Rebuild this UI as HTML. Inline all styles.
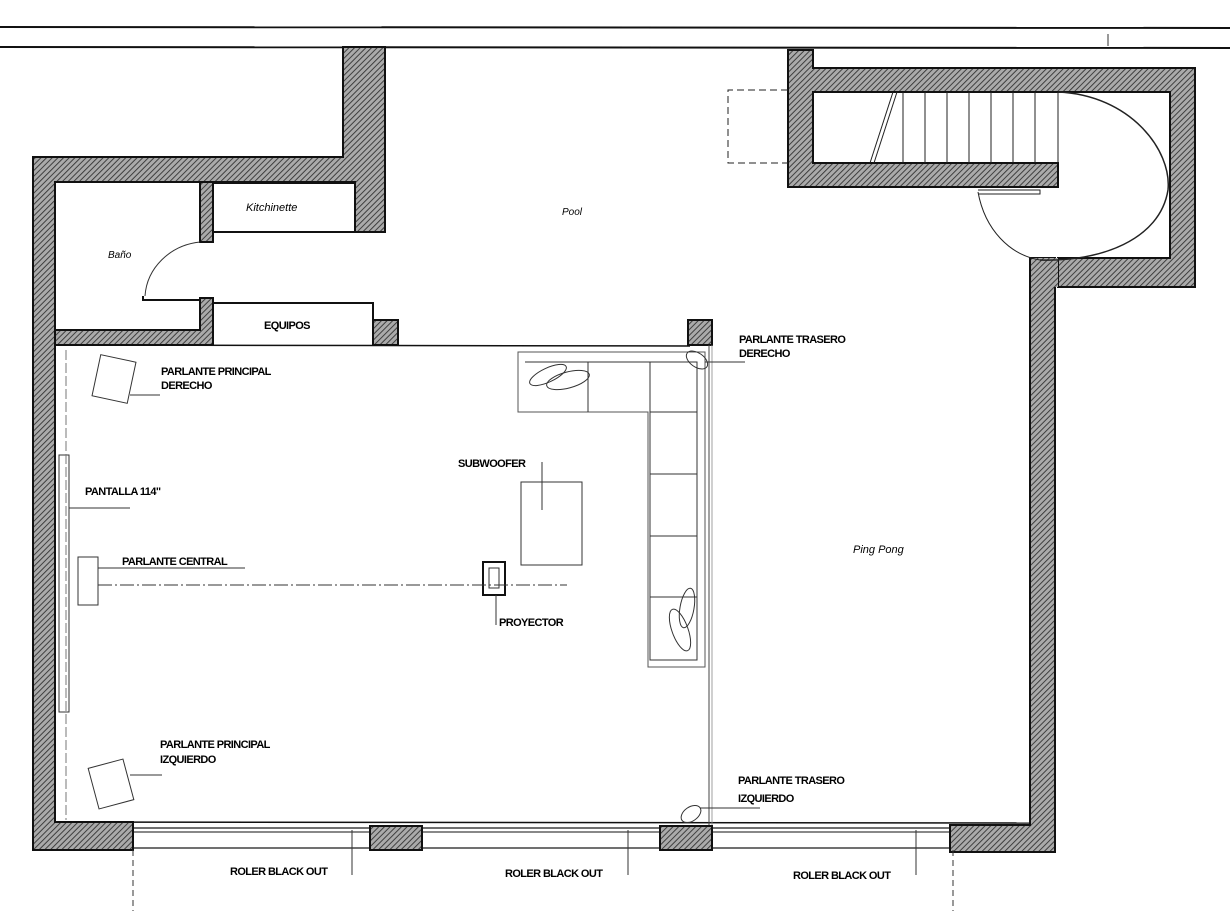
<!DOCTYPE html>
<html><head><meta charset="utf-8"><style>
html,body{margin:0;padding:0;background:#fff;}
svg{display:block;}
text{font-family:"Liberation Sans",sans-serif;font-size:11px;font-weight:bold;fill:#000;letter-spacing:-0.6px;}
.it{font-style:italic;font-weight:normal;letter-spacing:0;}
</style></head><body>
<svg width="1230" height="911" viewBox="0 0 1230 911" xmlns="http://www.w3.org/2000/svg">
<defs>
<pattern id="h" width="4" height="4" patternUnits="userSpaceOnUse" patternTransform="rotate(45)">
<rect width="4" height="4" fill="#aaa"/><line x1="0" y1="0" x2="0" y2="4" stroke="#333" stroke-width="1.8"/>
</pattern>
</defs>
<rect width="1230" height="911" fill="#fff"/>
<line x1="0" y1="27" x2="1230" y2="28" stroke="#111" stroke-width="2"/>
<line x1="0" y1="47" x2="1230" y2="48" stroke="#111" stroke-width="2"/>
<line x1="1108" y1="34" x2="1108" y2="46" stroke="#333" stroke-width="1"/>

<g fill="url(#h)" stroke="#111" stroke-width="2">
<path d="M343,47 H385 V232 H355 V182 H55 V822 H133 V850 H33 V157 H343 Z"/>
<rect x="200" y="182" width="13" height="60"/>
<path d="M55,330 H200 V298 H213 V345 H55 Z"/>
<rect x="373" y="320" width="25" height="25"/>
<rect x="688" y="320" width="24" height="25"/>
<rect x="370" y="826" width="52" height="24"/>
<rect x="660" y="826" width="52" height="24"/>
<path d="M1030,258 H1055 V852 H950 V825 H1030 Z"/>
<path d="M788,50 H813 V68 H1195 V287 H1058 V258 H1170 V92 H813 V163 H1058 V187 H788 Z"/>
</g>
<rect x="1033" y="258" width="25" height="29" fill="url(#h)"/>
<g fill="none" stroke="#111" stroke-width="2">
<path d="M213,183 H355 V232 H213"/>
<path d="M213,303 H373 V345"/>
<line x1="55" y1="345" x2="690" y2="346" stroke-width="1.5"/>
<rect x="133" y="828" width="237" height="20" stroke-width="1.2"/>
<rect x="422" y="828" width="238" height="20" stroke-width="1.2"/>
<rect x="712" y="828" width="238" height="20" stroke-width="1.2"/>
<line x1="133" y1="832" x2="370" y2="832" stroke-width="1"/>
<line x1="422" y1="832" x2="660" y2="832" stroke-width="1"/>
<line x1="712" y1="832" x2="950" y2="832" stroke-width="1"/>
<line x1="55" y1="822" x2="1030" y2="823" stroke-width="1.5"/>
</g>
<path d="M145,296 A62,58 0 0 1 200,242" fill="none" stroke="#333" stroke-width="1"/>
<path d="M143,296 V300 H200" fill="none" stroke="#111" stroke-width="2"/>
<line x1="709" y1="345" x2="709" y2="825" stroke="#444" stroke-width="1"/>
<line x1="712" y1="345" x2="712" y2="825" stroke="#888" stroke-width="0.8"/>
<g stroke="#222" stroke-width="1" fill="none">
<line x1="903" y1="92" x2="903" y2="163"/><line x1="925" y1="92" x2="925" y2="163"/>
<line x1="947" y1="92" x2="947" y2="163"/><line x1="969" y1="92" x2="969" y2="163"/>
<line x1="991" y1="92" x2="991" y2="163"/><line x1="1013" y1="92" x2="1013" y2="163"/>
<line x1="1035" y1="92" x2="1035" y2="163"/><line x1="1058" y1="92" x2="1058" y2="163"/>
<line x1="893" y1="92" x2="870" y2="163"/><line x1="897" y1="92" x2="874" y2="163"/>
<path d="M788,90 H728 V163 H788" stroke-dasharray="7,4"/>
<path d="M1058,92 C1130,95 1172,150 1168,190 C1160,240 1100,262 1040,260" stroke-width="1.5"/>
<path d="M978,192 C985,230 1010,255 1040,260"/>
<path d="M978,190 H1040 V194 H978"/>
</g>
<g fill="none" stroke="#333" stroke-width="1">
<path d="M518,352 H705 V667 H648 V412 H518 Z" stroke="#555"/>
<path d="M525,362 H697 V660 H650 V412"/>
<line x1="588" y1="362" x2="588" y2="412"/><line x1="650" y1="362" x2="650" y2="412"/>
<line x1="650" y1="412" x2="697" y2="412"/><line x1="650" y1="474" x2="697" y2="474"/>
<line x1="650" y1="536" x2="697" y2="536"/><line x1="650" y1="597" x2="697" y2="597"/>
<ellipse cx="548" cy="375" rx="20" ry="7" transform="rotate(-25 548 375)"/>
<ellipse cx="568" cy="380" rx="22" ry="8" transform="rotate(-15 568 380)"/>
<ellipse cx="687" cy="608" rx="7" ry="20" transform="rotate(10 687 608)"/>
<ellipse cx="680" cy="630" rx="8" ry="22" transform="rotate(-20 680 630)"/>
<rect x="521" y="482" width="61" height="83"/>
<line x1="542" y1="462" x2="542" y2="510"/>
<rect x="483" y="562" width="22" height="33" stroke-width="2" stroke="#111"/>
<rect x="489" y="568" width="10" height="20"/>
<line x1="496" y1="595" x2="496" y2="625"/>
<line x1="98" y1="585" x2="567" y2="585" stroke-dasharray="14,3,2,3"/>
<rect x="59" y="455" width="10" height="257"/>
<line x1="66" y1="350" x2="66" y2="820" stroke-dasharray="10,3" stroke="#777"/>
<rect x="78" y="557" width="20" height="48"/>
<line x1="69" y1="508" x2="130" y2="508"/>
<line x1="98" y1="568" x2="245" y2="568"/>
<rect x="96" y="358" width="36" height="42" transform="rotate(12 114 379)"/>
<rect x="93" y="763" width="36" height="42" transform="rotate(-15 111 784)"/>
<line x1="130" y1="395" x2="160" y2="395"/>
<line x1="130" y1="775" x2="162" y2="775"/>
<ellipse cx="697" cy="360" rx="12" ry="7" transform="rotate(35 697 360)"/>
<ellipse cx="691" cy="814" rx="11" ry="7" transform="rotate(-35 691 814)"/>
<line x1="705" y1="362" x2="745" y2="362"/>
<line x1="700" y1="808" x2="760" y2="808"/>
<line x1="352" y1="830" x2="352" y2="875"/>
<line x1="628" y1="830" x2="628" y2="875"/>
<line x1="916" y1="830" x2="916" y2="875"/>
<line x1="133" y1="850" x2="133" y2="911" stroke-dasharray="6,4"/>
<line x1="953" y1="850" x2="953" y2="911" stroke-dasharray="6,4"/>
</g>
<text x="246" y="211" class="it">Kitchinette</text>
<text x="108" y="258" class="it" style="font-size:10px">Baño</text>
<text x="264" y="329">EQUIPOS</text>
<text x="562" y="215" class="it" style="font-size:10px">Pool</text>
<text x="853" y="553" class="it">Ping Pong</text>
<text x="161" y="375">PARLANTE PRINCIPAL</text>
<text x="161" y="389">DERECHO</text>
<text x="85" y="495">PANTALLA 114"</text>
<text x="122" y="565">PARLANTE CENTRAL</text>
<text x="458" y="467">SUBWOOFER</text>
<text x="499" y="626">PROYECTOR</text>
<text x="160" y="748">PARLANTE PRINCIPAL</text>
<text x="160" y="763">IZQUIERDO</text>
<text x="739" y="343">PARLANTE TRASERO</text>
<text x="739" y="357">DERECHO</text>
<text x="738" y="784">PARLANTE TRASERO</text>
<text x="738" y="802">IZQUIERDO</text>
<text x="230" y="875">ROLER BLACK OUT</text>
<text x="505" y="877">ROLER BLACK OUT</text>
<text x="793" y="879">ROLER BLACK OUT</text>
</svg>
</body></html>
